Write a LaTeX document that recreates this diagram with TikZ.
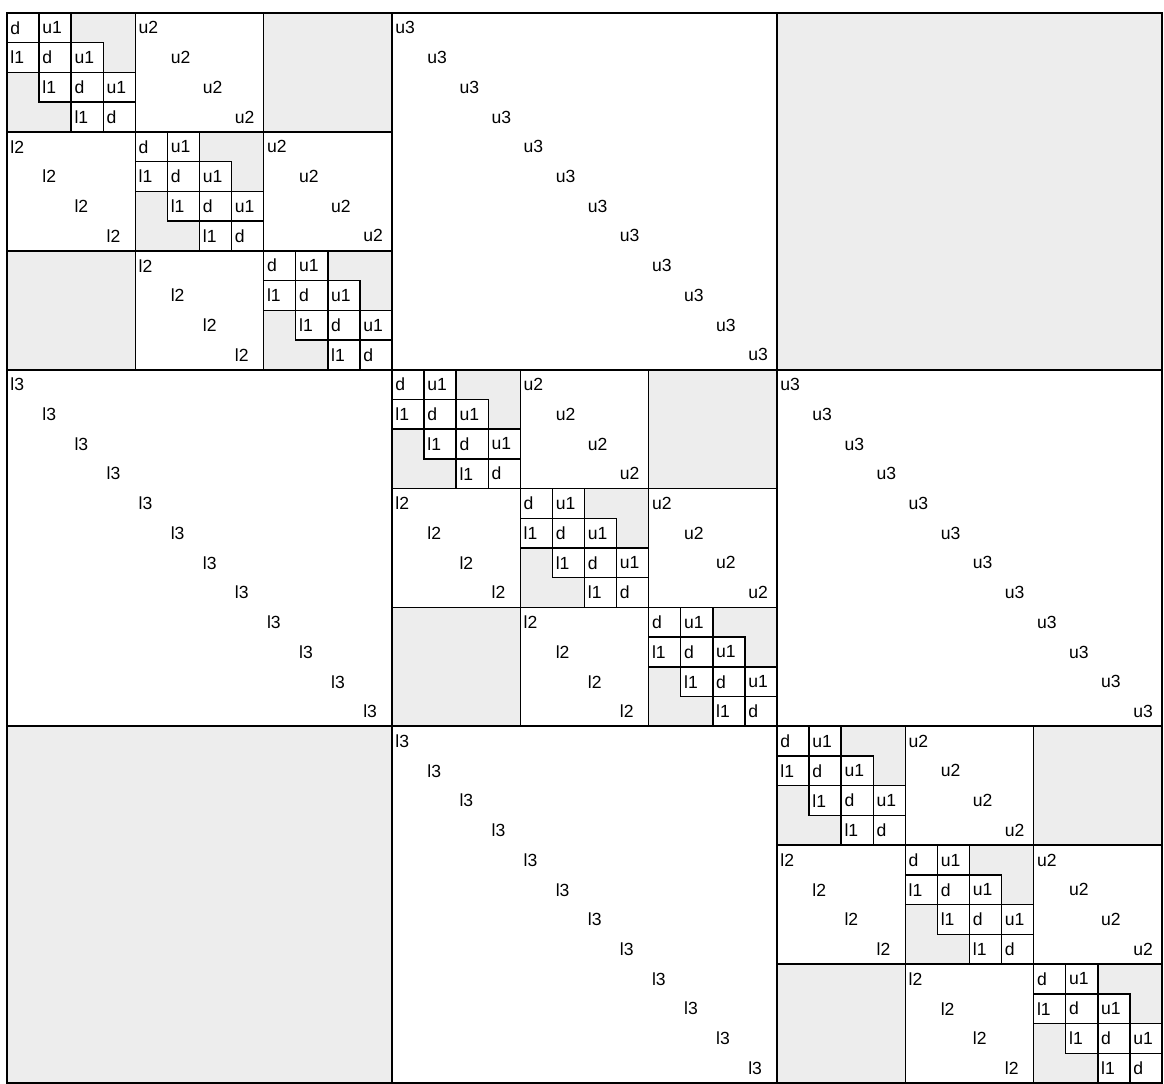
\documentclass[tikz,border=0pt]{standalone}
\usepackage{fontspec}
\setmainfont{Liberation Sans}
\usetikzlibrary{positioning}

\begin{document}
\begin{tikzpicture}[
  x=0.02cm,y=-0.02cm,
  zero/.style={fill=black!7,draw=none},
  cellbox/.style={draw,fill=white,line width=0.8pt},
  subblk/.style={draw,line width=0.9pt},
  bigblk/.style={draw,line width=1.2pt},
  entry/.style={anchor=west,inner sep=0pt,font=\fontsize{10}{11}\selectfont},
]
\useasboundingbox (0,0) rectangle (1164,1084);
\fill[white] (0,0) rectangle (1164,1084);

% ==== LEVEL 1: 3x3 blocks ====
\foreach \I in {0,1,2}{
  \foreach \J in {0,1,2}{
    \pgfmathsetmacro\bx{7+385*\J}
    \pgfmathsetmacro\by{13+356.667*\I}
    \pgfmathtruncatemacro\dd{abs(\I-\J)}
    % corner blocks are empty
    \ifnum\dd=2
      \fill[zero] (\bx,\by) rectangle ++(385,356.667);
    \fi
    % u3 / l3 diagonals
    \ifnum\dd=1
      \ifnum\J>\I \def\lab{u3}\else\def\lab{l3}\fi
      \foreach \k in {0,...,11}
        \node[entry] (e3-\I\J-\k) at ({\bx+32.083*\k+3},{\by+29.722*(\k+0.5)}) {\lab};
    \fi
    % ==== LEVEL 2 inside diagonal blocks ====
    \ifnum\dd=0
      \foreach \i in {0,1,2}{
        \foreach \j in {0,1,2}{
          \pgfmathsetmacro\cx{\bx+128.333*\j}
          \pgfmathsetmacro\cy{\by+118.889*\i}
          \pgfmathtruncatemacro\ee{abs(\i-\j)}
          \ifnum\ee=2
            \fill[zero] (\cx,\cy) rectangle ++(128.333,118.889);
          \fi
          \ifnum\ee=1
            \ifnum\j>\i \def\lab{u2}\else\def\lab{l2}\fi
            \foreach \k in {0,...,3}
              \node[entry] (e2-\I\i\j-\k) at ({\cx+32.083*\k+3},{\cy+29.722*(\k+0.5)}) {\lab};
          \fi
          % ==== LEVEL 3: tridiagonal cells ====
          \ifnum\ee=0
            \fill[zero] (\cx,\cy) rectangle ++(128.333,118.889);
            \foreach \p in {0,...,3}{
              \foreach \q in {0,...,3}{
                \pgfmathtruncatemacro\gg{abs(\q-\p)}
                \ifnum\gg<2
                  \ifnum\q=\p \def\lab{d}\else\ifnum\q>\p \def\lab{u1}\else\def\lab{l1}\fi\fi
                  \draw[cellbox] ({\cx+32.083*\q},{\cy+29.722*\p}) rectangle ++(32.083,29.722);
                  \node[entry] (c\I\i-\p\q) at ({\cx+32.083*\q+3},{\cy+29.722*(\p+0.5)}) {\lab};
                \fi
              }}
          \fi
          \draw[subblk] (\cx,\cy) rectangle ++(128.333,118.889);
        }}
    \fi
  }}

% ==== outer grid ====
\draw[bigblk] (7,13) rectangle (1162,1083);
\foreach \k in {1,2}{
  \draw[bigblk] ({7+385*\k},13) -- ({7+385*\k},1083);
  \draw[bigblk] (7,{13+356.667*\k}) -- (1162,{13+356.667*\k});
}

\end{tikzpicture}
\end{document}
